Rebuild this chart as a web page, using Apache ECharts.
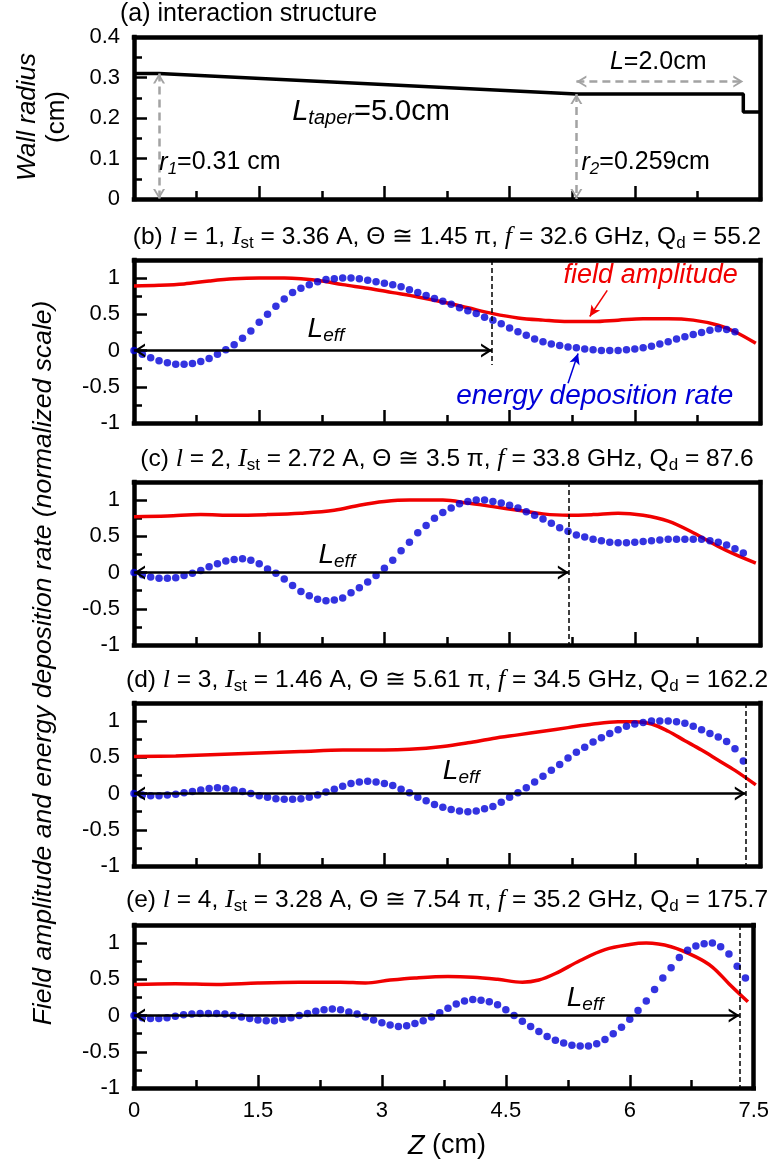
<!DOCTYPE html>
<html lang="en">
<head>
<meta charset="UTF-8">
<title>Field amplitude and energy deposition rate</title>
<script src="https://cdn.jsdelivr.net/npm/echarts@6.0.0/dist/echarts.min.js"></script>
<style>
    html, body { margin: 0; padding: 0; background: #fff; }
    #main { width: 772px; height: 1165px; }
</style>
</head>
<body>
<div id="main"></div>
<script>
// ---- data ----
var zDots = [0.0,0.1,0.2,0.3,0.4,0.5,0.6,0.7,0.8,0.9,1.0,1.1,1.2,1.3,1.4,1.5,1.6,1.7,1.8,1.9,
    2.0,2.1,2.2,2.3,2.4,2.5,2.6,2.7,2.8,2.9,3.0,3.1,3.2,3.3,3.4,3.5,3.6,3.7,3.8,3.9,
    4.0,4.1,4.2,4.3,4.4,4.5,4.6,4.7,4.8,4.9,5.0,5.1,5.2,5.3,5.4,5.5,5.6,5.7,5.8,5.9,
    6.0,6.1,6.2,6.3,6.4,6.5,6.6,6.7,6.8,6.9,7.0,7.1,7.2,7.3,7.4];

// wall radius profile (panel a)
var wallZ = [0, 0.3, 5.3, 7.3, 7.3, 7.5];
var wallR = [0.31, 0.31, 0.259, 0.259, 0.215, 0.215];

// energy deposition rate (blue dots), one value per zDots entry
var energyB = [0.00,-0.05,-0.10,-0.14,-0.17,-0.19,-0.19,-0.18,-0.15,-0.11,
    -0.05,0.01,0.08,0.17,0.27,0.39,0.50,0.61,0.71,0.80,
    0.86,0.91,0.95,0.98,0.99,1.00,1.00,0.99,0.97,0.95,
    0.93,0.91,0.88,0.84,0.80,0.76,0.72,0.68,0.64,0.59,
    0.55,0.51,0.46,0.42,0.37,0.31,0.26,0.21,0.16,0.12,
    0.09,0.07,0.05,0.04,0.02,0.01,0.00,0.00,0.00,0.01,
    0.02,0.04,0.06,0.09,0.12,0.16,0.19,0.22,0.25,0.28,
    0.30,0.29,0.26];
var energyC = [0.00,-0.03,-0.06,-0.08,-0.08,-0.07,-0.04,-0.01,0.03,0.08,
    0.12,0.16,0.18,0.19,0.17,0.12,0.05,-0.01,-0.09,-0.18,
    -0.26,-0.32,-0.37,-0.39,-0.38,-0.35,-0.28,-0.21,-0.13,-0.04,
    0.06,0.17,0.30,0.42,0.55,0.65,0.75,0.83,0.89,0.95,
    0.98,1.00,1.00,0.98,0.96,0.93,0.89,0.84,0.79,0.74,
    0.68,0.62,0.57,0.52,0.49,0.46,0.44,0.42,0.41,0.41,
    0.42,0.43,0.44,0.45,0.46,0.46,0.46,0.46,0.46,0.44,
    0.42,0.38,0.33,0.27];
var energyD = [0.00,-0.02,-0.03,-0.03,-0.02,-0.01,0.01,0.03,0.05,0.07,
    0.08,0.07,0.05,0.03,0.00,-0.03,-0.05,-0.07,-0.08,-0.08,
    -0.07,-0.05,-0.02,0.02,0.06,0.10,0.14,0.16,0.17,0.16,
    0.14,0.11,0.06,0.01,-0.05,-0.10,-0.15,-0.19,-0.22,-0.24,
    -0.25,-0.24,-0.21,-0.18,-0.12,-0.05,0.01,0.08,0.16,0.24,
    0.32,0.40,0.49,0.57,0.64,0.71,0.77,0.83,0.88,0.93,
    0.96,0.98,1.00,1.00,1.00,0.99,0.97,0.93,0.88,0.83,
    0.78,0.72,0.62,0.45];
var energyE = [0.00,-0.03,-0.04,-0.04,-0.03,-0.01,0.01,0.02,0.03,0.03,
    0.03,0.02,0.00,-0.02,-0.04,-0.06,-0.07,-0.07,-0.05,-0.03,
    0.00,0.03,0.06,0.08,0.09,0.08,0.05,0.02,-0.02,-0.06,
    -0.10,-0.13,-0.15,-0.14,-0.11,-0.07,-0.02,0.04,0.10,0.16,
    0.20,0.22,0.21,0.19,0.15,0.08,0.00,-0.08,-0.15,-0.22,
    -0.29,-0.34,-0.38,-0.41,-0.42,-0.42,-0.39,-0.33,-0.25,-0.16,
    -0.05,0.07,0.20,0.36,0.52,0.66,0.80,0.90,0.96,0.99,
    1.00,0.95,0.85,0.68,0.52];

// field amplitude (red line), [z, value]
var fieldB = [[0,0.89],[0.3,0.9],[0.6,0.92],[0.9,0.96],[1.2,0.99],[1.5,1.0],[1.8,1.0],[2.0,0.99],
    [2.25,0.96],[2.5,0.91],[2.8,0.86],[3.1,0.80],[3.4,0.74],[3.7,0.67],[4.0,0.59],[4.3,0.51],
    [4.6,0.45],[4.9,0.42],[5.2,0.40],[5.5,0.40],[5.8,0.42],[6.1,0.44],[6.4,0.44],[6.7,0.42],
    [7.0,0.35],[7.2,0.26],[7.45,0.10]];
var fieldC = [[0,0.77],[0.4,0.78],[0.8,0.80],[1.2,0.79],[1.6,0.80],[2.0,0.82],[2.4,0.86],[2.7,0.93],
    [3.0,0.98],[3.3,1.0],[3.7,1.0],[4.0,0.96],[4.3,0.91],[4.6,0.86],[4.9,0.81],[5.2,0.79],
    [5.5,0.80],[5.8,0.82],[6.1,0.79],[6.4,0.71],[6.7,0.55],[7.0,0.36],[7.2,0.25],[7.45,0.13]];
var fieldD = [[0,0.51],[0.5,0.52],[1.0,0.54],[1.5,0.56],[2.0,0.58],[2.5,0.60],[3.0,0.60],[3.3,0.61],
    [3.7,0.65],[4.0,0.70],[4.3,0.76],[4.6,0.81],[4.9,0.86],[5.2,0.91],[5.5,0.96],[5.8,0.99],
    [6.0,0.99],[6.2,0.96],[6.4,0.86],[6.6,0.73],[6.8,0.60],[7.0,0.46],[7.2,0.32],[7.45,0.12]];
var fieldE = [[0,0.43],[0.5,0.44],[1.0,0.43],[1.5,0.45],[2.0,0.46],[2.5,0.46],[2.8,0.45],[3.1,0.49],
    [3.4,0.52],[3.8,0.54],[4.1,0.53],[4.4,0.50],[4.7,0.46],[4.9,0.49],[5.1,0.58],[5.4,0.76],
    [5.7,0.91],[6.0,0.98],[6.2,1.0],[6.5,0.95],[6.8,0.81],[7.0,0.67],[7.2,0.44],[7.43,0.19]];

var energyAll = [energyB, energyC, energyD, energyE];
var fieldAll = [fieldB, fieldC, fieldD, fieldE];

// L_eff per panel and where its dashed marker stops
var leff = [4.29, 5.21, 7.33, 7.33];
var dashBottom = [-0.2, -1, -1, -1];
var leffText = [[2.3, 0.29], [2.43, 0.24], [3.92, 0.31], [5.46, 0.24]];

// panel titles
var panelLetter = ['b', 'c', 'd', 'e'];
var modeL = ['1', '2', '3', '4'];
var startCurrent = ['3.36', '2.72', '1.46', '3.28'];
var thetaPi = ['1.45', '3.5', '5.61', '7.54'];
var freqGHz = ['32.6', '33.8', '34.5', '35.2'];
var qDiff = ['55.2', '87.6', '162.2', '175.7'];

// ---- chart ----
var SANS = "'Liberation Sans',Arial,sans-serif";
var SERIF = "'Liberation Serif','Times New Roman',serif";
var CHEV = 'path://M5,0 M0,20 L5,10 L10,20 L8.2,20 L5,13.6 L1.8,20 Z';
var RED = '#f00000', BLUE = '#0000d8', GRAY = '#a3a3a3';
var FRAME = {show: true, onZero: false, lineStyle: {color: '#000', width: 4.5, cap: 'square'}};

var LEFT = 134, RIGHT = 12;
var panelTop = [37, 260, 482, 703, 925];
var panelH = [162, 163, 163, 163, 163];
var titleY = [237, 459, 680, 900];

var chart = echarts.init(document.getElementById('main'));

var grids = [], xAxes = [], yAxes = [], series = [];
var ySeriesAxis = [];   // y axis index used by the series of each panel

function tick(len) {
    return {show: true, inside: true, length: len, lineStyle: {color: '#000', width: 2.5}};
}

panelTop.forEach(function (t, i) {
    grids.push({left: LEFT, right: RIGHT, top: t, height: panelH[i], show: false});
    // bottom axis with ticks
    xAxes.push({
        type: 'value', gridIndex: i, position: 'bottom', min: 0, max: 7.5, interval: 1.5,
        axisLine: FRAME, axisTick: tick(13),
        minorTick: {show: true, splitNumber: 2, length: 8, lineStyle: {color: '#000', width: 2.5}},
        splitLine: {show: false},
        axisLabel: {show: i === 4, color: '#000', fontSize: 22, fontFamily: SANS, margin: 12}
    });
    // top frame line
    xAxes.push({
        type: 'value', gridIndex: i, position: 'top', min: 0, max: 7.5,
        axisLine: FRAME, axisTick: {show: false}, axisLabel: {show: false}, splitLine: {show: false}
    });

    var lo = i === 0 ? 0 : -1, hi = i === 0 ? 0.4 : 1.25;
    ySeriesAxis.push(yAxes.length);
    if (i === 0) {
        yAxes.push({
            type: 'value', gridIndex: 0, position: 'left', min: 0, max: 0.4, interval: 0.1,
            axisLine: FRAME, axisTick: tick(13),
            minorTick: {show: true, splitNumber: 2, length: 8, lineStyle: {color: '#000', width: 2.5}},
            splitLine: {show: false},
            axisLabel: {color: '#000', fontSize: 22, fontFamily: SANS, margin: 14}
        });
    } else {
        // labelled axis every 0.5, plus a second one carrying the 0.25 minor ticks
        yAxes.push({
            type: 'value', gridIndex: i, position: 'left', min: -1, max: 1.25, interval: 0.5,
            axisLine: FRAME, axisTick: tick(13), splitLine: {show: false},
            axisLabel: {color: '#000', fontSize: 22, fontFamily: SANS, margin: 14,
                formatter: function (v) { return v > 1.1 ? '' : String(v); }}
        });
        yAxes.push({
            type: 'value', gridIndex: i, position: 'left', offset: 0, min: -1, max: 1.25, interval: 0.25,
            axisLine: {show: false, onZero: false}, axisTick: tick(8), splitLine: {show: false},
            axisLabel: {show: false}
        });
    }
    // right frame line
    yAxes.push({
        type: 'value', gridIndex: i, position: 'right', min: lo, max: hi,
        axisLine: FRAME, axisTick: {show: false}, axisLabel: {show: false}, splitLine: {show: false}
    });
});

var annoRich = {
    i: {fontFamily: SANS, fontStyle: 'italic', fontSize: 25, color: '#000', lineHeight: 30},
    si: {fontFamily: SANS, fontStyle: 'italic', fontSize: 17, color: '#000', lineHeight: 12, verticalAlign: 'bottom'},
    n: {fontFamily: SANS, fontSize: 25, color: '#000', lineHeight: 30}
};
var taperRich = {
    i: {fontFamily: SANS, fontStyle: 'italic', fontSize: 29, color: '#000', lineHeight: 34},
    si: {fontFamily: SANS, fontStyle: 'italic', fontSize: 20, color: '#000', lineHeight: 14, verticalAlign: 'bottom'},
    n: {fontFamily: SANS, fontSize: 29, color: '#000', lineHeight: 34}
};

function textPoint(coord, text, rich) {
    return {coord: coord, label: {show: true, position: 'inside', formatter: text, rich: rich}};
}

series.push({
    type: 'line', xAxisIndex: 0, yAxisIndex: ySeriesAxis[0], symbol: 'none', animation: false,
    data: wallZ.map(function (z, i) { return [z, wallR[i]]; }),
    lineStyle: {color: '#000', width: 3.5},
    markLine: {
        silent: true, animation: false, symbol: ['none', 'none'], label: {show: false},
        lineStyle: {color: GRAY, width: 2.5, type: [8, 5]},
        data: [
            [{coord: [0.3, 0.31], symbol: CHEV, symbolSize: [12, 20]}, {coord: [0.3, 0], symbol: CHEV, symbolSize: [12, 20]}],
            [{coord: [5.3, 0.259], symbol: CHEV, symbolSize: [12, 20]}, {coord: [5.3, 0], symbol: CHEV, symbolSize: [12, 20]}],
            [{coord: [5.3, 0.29], symbol: CHEV, symbolSize: [12, 20]}, {coord: [7.3, 0.29], symbol: CHEV, symbolSize: [12, 20]}]
        ]
    },
    markPoint: {
        silent: true, animation: false, symbol: 'circle', symbolSize: 0,
        itemStyle: {color: 'transparent'},
        data: [
            textPoint([1.03, 0.09], '{i|r}{si|1}{n|=0.31 cm}', annoRich),
            textPoint([6.13, 0.09], '{i|r}{si|2}{n|=0.259cm}', annoRich),
            textPoint([6.28, 0.337], '{i|L}{n|=2.0cm}', annoRich),
            textPoint([2.84, 0.215], '{i|L}{si|taper}{n|=5.0cm}', taperRich)
        ]
    }
});

var leffRich = {
    L: {fontFamily: SANS, fontStyle: 'italic', fontSize: 28, color: '#000', lineHeight: 32},
    s: {fontFamily: SANS, fontStyle: 'italic', fontSize: 19, color: '#000', lineHeight: 12, verticalAlign: 'bottom'}
};

for (var p = 1; p <= 4; p++) {
    var xIdx = 2 * p;
    var yIdx = ySeriesAxis[p];
    var L = leff[p - 1];
    var redLines = [
        [{coord: [0, 0], symbol: CHEV, symbolSize: [14, 22]}, {coord: [L, 0], symbol: CHEV, symbolSize: [14, 22]}],
        [{coord: [L, 1.25], lineStyle: {type: [5, 3], width: 1.5}}, {coord: [L, dashBottom[p - 1]]}]
    ];
    var redPoints = [textPoint(leffText[p - 1], '{L|L}{s|eff}', leffRich)];
    var blueLines = [], bluePoints = [];
    if (p === 1) {
        redLines.push([{coord: [5.67, 0.83], lineStyle: {color: RED, width: 1.5, type: 'solid'}},
            {coord: [5.46, 0.47], symbol: 'arrow', symbolSize: [8, 11]}]);
        blueLines.push([{coord: [5.2, -0.45]}, {coord: [5.32, -0.04], symbol: 'arrow', symbolSize: [8, 11]}]);
        redPoints.push({coord: [6.19, 1.04], label: {show: true, position: 'inside', formatter: 'field amplitude',
            color: RED, fontFamily: SANS, fontStyle: 'italic', fontSize: 27}});
        bluePoints.push({coord: [5.52, -0.63], label: {show: true, position: 'inside', formatter: 'energy deposition rate',
            color: BLUE, fontFamily: SANS, fontStyle: 'italic', fontSize: 28}});
    }
    series.push({
        type: 'line', xAxisIndex: xIdx, yAxisIndex: yIdx, symbol: 'none', smooth: 0.35, animation: false, z: 2,
        data: fieldAll[p - 1],
        lineStyle: {color: RED, width: 3.5},
        markLine: {silent: true, animation: false, symbol: ['none', 'none'], label: {show: false},
            lineStyle: {color: '#000', width: 2.5, type: 'solid'}, data: redLines},
        markPoint: {silent: true, animation: false, symbol: 'circle', symbolSize: 0,
            itemStyle: {color: 'transparent'}, data: redPoints}
    });
    series.push({
        type: 'scatter', xAxisIndex: xIdx, yAxisIndex: yIdx, symbolSize: 7.5, animation: false, z: 3,
        data: energyAll[p - 1].map(function (v, i) { return [zDots[i], v]; }),
        itemStyle: {color: BLUE},
        markLine: {silent: true, animation: false, symbol: ['none', 'none'], label: {show: false},
            lineStyle: {color: BLUE, width: 1.5, type: 'solid'}, data: blueLines},
        markPoint: {silent: true, animation: false, symbol: 'circle', symbolSize: 0,
            itemStyle: {color: 'transparent'}, data: bluePoints}
    });
}

// titles and axis names
var titleRich = {
    n: {fontFamily: SANS, fontSize: 24.5, fill: '#000', lineHeight: 30},
    i: {fontFamily: SERIF, fontStyle: 'italic', fontSize: 26, fill: '#000', lineHeight: 30},
    s: {fontFamily: SANS, fontSize: 17, fill: '#000', lineHeight: 14, verticalAlign: 'bottom'}
};
var graphics = [{
    type: 'text', left: 120, top: 2,
    style: {text: '(a) interaction structure', fontFamily: SANS, fontSize: 25, fill: '#000'}
}];
panelLetter.forEach(function (c, k) {
    graphics.push({
        type: 'text', x: (LEFT + 772 - RIGHT) / 2, y: titleY[k],
        style: {
            text: '{n|(' + c + ') }{i|l}{n| = ' + modeL[k] + ', }{i|I}{s|st}{n| = ' + startCurrent[k] +
                ' A, \u0398 \u2245 ' + thetaPi[k] + ' \u03c0, }{i|f}{n| = ' + freqGHz[k] + ' GHz, Q}{s|d}{n| = ' + qDiff[k] + '}',
            rich: titleRich, align: 'center', verticalAlign: 'middle'
        }
    });
});
graphics.push(
    {type: 'text', x: 28, y: 117, rotation: Math.PI / 2,
        style: {text: 'Wall radius', fontFamily: SANS, fontStyle: 'italic', fontSize: 26, fill: '#000', align: 'center', verticalAlign: 'middle'}},
    {type: 'text', x: 57, y: 117, rotation: Math.PI / 2,
        style: {text: '(cm)', fontFamily: SANS, fontSize: 26, fill: '#000', align: 'center', verticalAlign: 'middle'}},
    {type: 'text', x: 44, y: 663, rotation: Math.PI / 2,
        style: {text: 'Field amplitude and energy deposition rate (normalized scale)', fontFamily: SANS, fontStyle: 'italic',
            fontSize: 26.5, fill: '#000', align: 'center', verticalAlign: 'middle'}},
    {type: 'text', x: (LEFT + 772 - RIGHT) / 2, y: 1146,
        style: {text: '{i|Z}{n| (cm)}', align: 'center', verticalAlign: 'middle',
            rich: {i: {fontFamily: SANS, fontStyle: 'italic', fontSize: 27, fill: '#000'},
                   n: {fontFamily: SANS, fontSize: 27, fill: '#000'}}}}
);

chart.setOption({
    animation: false,
    backgroundColor: '#fff',
    grid: grids,
    xAxis: xAxes,
    yAxis: yAxes,
    series: series,
    graphic: graphics
});
</script>
</body>
</html>
